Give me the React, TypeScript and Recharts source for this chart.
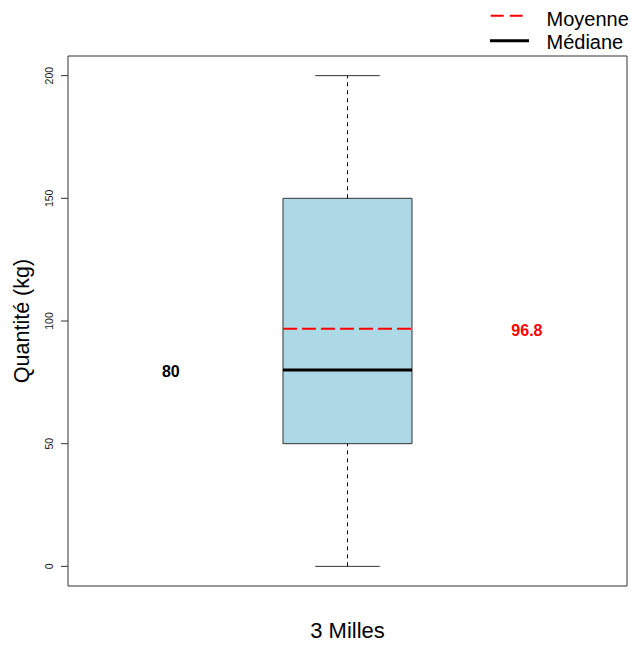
import {
  ComposedChart,
  XAxis,
  YAxis,
  ReferenceArea,
  ReferenceLine,
  Scatter,
} from 'recharts'

// box statistics
const categories = ['3 Milles']
const whiskerLow = [0]
const quartile1 = [50]
const median = [80]
const quartile3 = [150]
const whiskerHigh = [200]
const mean = [96.8]

const yTicks = [0, 50, 100, 150, 200]
const yDomain = [-8, 208]
const legendLabels = ['Moyenne', 'Médiane']

const FONT = '"Liberation Sans", Arial, Helvetica, sans-serif'
const BOX_HALF = 0.1154
const CAP_HALF = 0.0577

function YTick(props: any) {
  const { y, payload } = props
  const tx = 49
  return (
    <text
      x={tx}
      y={y}
      dy="0.35em"
      transform={`rotate(-90, ${tx}, ${y})`}
      textAnchor="middle"
      fontSize={10.5}
      fontFamily={FONT}
      fill="#222"
    >
      {payload.value}
    </text>
  )
}

function ValueLabel(props: any) {
  const { cx, cy, payload } = props
  return (
    <text
      x={cx}
      y={cy}
      dy="0.45em"
      textAnchor="middle"
      fontSize={16}
      fontWeight={700}
      fontFamily={FONT}
      fill={payload.color}
    >
      {payload.text}
    </text>
  )
}

function LegendBox() {
  return (
    <svg width={151} height={56} style={{ position: 'absolute', left: 480, top: 0 }}>
      <line x1={10.7} x2={43} y1={15.7} y2={15.7} stroke="#ff0000" strokeWidth={2} strokeDasharray="13 6" />
      <line x1={10} x2={49} y1={40.7} y2={40.7} stroke="#000" strokeWidth={3} />
      {legendLabels.map((l, i) => (
        <text key={l} x={66.5} y={25.5 + i * 23} fontSize={20} fontFamily={FONT} fill="#000">
          {l}
        </text>
      ))}
    </svg>
  )
}

export default function App() {
  const c = 1
  const labelPoints = [
    { x: c - 0.316, y: median[0], text: String(median[0]), color: '#000' },
    { x: c + 0.321, y: mean[0], text: String(mean[0]), color: '#ff0000' },
  ]

  return (
    <div style={{ position: 'absolute', left: 0, top: 0, width: 631, height: 645, background: '#fff' }}>
      <ComposedChart width={631} height={645} margin={{ top: 56, right: 4, left: 0, bottom: 0 }}>
        <XAxis
          type="number"
          dataKey="x"
          domain={[0.5, 1.5]}
          allowDataOverflow
          height={59}
          tick={false}
          tickLine={false}
          axisLine={false}
          label={{
            value: categories[0],
            position: 'insideBottom',
            offset: 7,
            style: { fontSize: 22, fontFamily: FONT, fill: '#000' },
          }}
        />
        <YAxis
          type="number"
          dataKey="y"
          domain={yDomain}
          allowDataOverflow
          ticks={yTicks}
          width={68}
          tickSize={7}
          tickLine={{ stroke: '#333' }}
          axisLine={false}
          tick={<YTick />}
          label={{
            value: 'Quantité (kg)',
            angle: -90,
            position: 'insideLeft',
            offset: 21,
            style: { textAnchor: 'middle', fontSize: 21.5, fontFamily: FONT, fill: '#000' },
          }}
        />

        {/* plot frame */}
        <ReferenceArea x1={0.5} x2={1.5} y1={yDomain[0]} y2={yDomain[1]} fill="none" stroke="#333" strokeWidth={1} />

        {/* whiskers */}
        <ReferenceLine
          segment={[{ x: c, y: quartile3[0] }, { x: c, y: whiskerHigh[0] }]}
          stroke="#000"
          strokeDasharray="4 4"
        />
        <ReferenceLine
          segment={[{ x: c, y: whiskerLow[0] }, { x: c, y: quartile1[0] }]}
          stroke="#000"
          strokeDasharray="4 4"
        />
        <ReferenceLine
          segment={[{ x: c - CAP_HALF, y: whiskerHigh[0] }, { x: c + CAP_HALF, y: whiskerHigh[0] }]}
          stroke="#333"
        />
        <ReferenceLine
          segment={[{ x: c - CAP_HALF, y: whiskerLow[0] }, { x: c + CAP_HALF, y: whiskerLow[0] }]}
          stroke="#333"
        />

        {/* box */}
        <ReferenceArea
          x1={c - BOX_HALF}
          x2={c + BOX_HALF}
          y1={quartile1[0]}
          y2={quartile3[0]}
          fill="#add8e6"
          fillOpacity={1}
          stroke="#333"
          strokeWidth={1}
        />
        <ReferenceLine
          segment={[{ x: c - BOX_HALF, y: median[0] }, { x: c + BOX_HALF, y: median[0] }]}
          stroke="#000"
          strokeWidth={3}
        />
        <ReferenceLine
          segment={[{ x: c - BOX_HALF, y: mean[0] }, { x: c + BOX_HALF, y: mean[0] }]}
          stroke="#ff0000"
          strokeWidth={2}
          strokeDasharray="14 5"
        />

        <Scatter data={labelPoints} dataKey="y" shape={<ValueLabel />} isAnimationActive={false} />
      </ComposedChart>
      <LegendBox />
    </div>
  )
}
